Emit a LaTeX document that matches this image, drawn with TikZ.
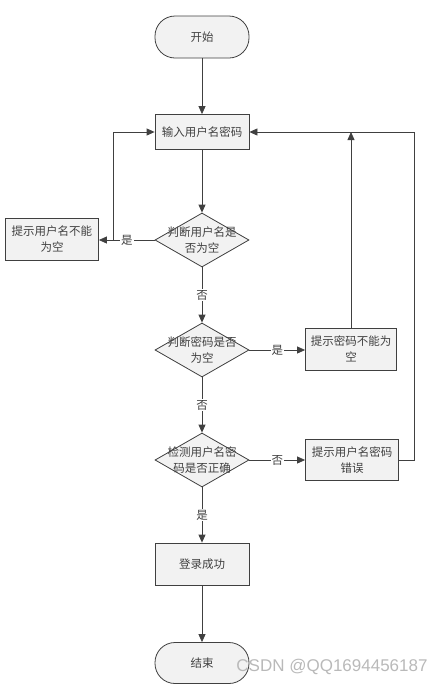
\documentclass[tikz,border=0pt]{standalone}
\usepackage{fontspec}
\newfontfamily\cjk{Noto Sans CJK SC}
\newfontfamily\wmfont{Liberation Sans}
\usetikzlibrary{arrows.meta,shapes.geometric}
\definecolor{linegray}{HTML}{404040}
\definecolor{boxfill}{HTML}{F2F2F2}
\tikzstyle{box}=[rectangle, draw=linegray, fill=boxfill, thick, minimum width=94pt, minimum height=42pt, inner sep=0pt, align=center, font=\cjk\fontsize{11.5}{16}\selectfont, text=linegray]
\tikzstyle{term}=[box, rounded corners=20pt]
\tikzstyle{decision}=[diamond, draw=linegray, fill=boxfill, thick, minimum width=94pt, minimum height=54pt, inner sep=0pt]
\tikzstyle{dtext}=[align=center, font=\cjk\fontsize{11.5}{16}\selectfont, text=linegray]
\tikzstyle{tag}=[fill=white, inner sep=1pt, font=\cjk\fontsize{11.5}{12}\selectfont, text=linegray]
\tikzstyle{arrow}=[draw=linegray, thick, -{Triangle[length=8pt,width=7pt]}]

\begin{document}
\begin{tikzpicture}[x=1pt, y=-1pt]
		   \useasboundingbox (0,0) rectangle (446,686);
		   \begin{scope}
			   \node (start) at (202, 37)[term] {开始};
			   \node (input) at (202, 132)[box, minimum height=35pt] {输入用户名密码};
			   \node (chk1) at (202, 240)[decision, label={[dtext]center:判断用户名是\\否为空}] {};
			   \node (warn1) at (52, 239)[box, minimum width=93pt] {提示用户名不能\\为空};
			   \node (chk2) at (202, 350)[decision, label={[dtext]center:判断密码是否\\为空}] {};
			   \node (warn2) at (351, 349)[box, minimum width=91pt] {提示密码不能为\\空};
			   \node (chk3) at (202, 460)[decision, label={[dtext]center:检测用户名密\\码是否正确}] {};
			   \node (warn3) at (352, 460)[box, minimum width=93pt, minimum height=41pt] {提示用户名密码\\错误};
			   \node (ok) at (202, 564)[box] {登录成功};
			   \node (stop) at (202, 663)[term, minimum height=41pt] {结束};
			   \coordinate (back1) at (113, 240);
			   \coordinate (back3) at (414, 460);
			   \node (mark) at (332, 667)[font=\wmfont\fontsize{17}{20}\selectfont, text=gray!55] {CSDN @QQ1694456187};
		   \end{scope}
		   \begin{scope}
			   \path [arrow] (start) -- (input);
			   \path [arrow] (input) -- (chk1);
			   \path [arrow] (chk1.west) -- node[tag] {是} (chk1.west -| warn1.east);
			   \path [arrow] (back1) |- (input.west);
			   \path [arrow] (chk1) -- node[tag] {否} (chk2);
			   \path [arrow] (chk2) -- node[tag] {是} (chk2 -| warn2.west);
			   \path [arrow] (warn2) -- (warn2 |- input.east);
			   \path [arrow] (chk2) -- node[tag] {否} (chk3);
			   \path [arrow] (chk3) -- node[tag] {否} (warn3);
			   \path [arrow] (warn3) -- (back3) |- (input.east);
			   \path [arrow] (chk3) -- node[tag] {是} (ok);
			   \path [arrow] (ok) -- (stop);
		   \end{scope}
	   \end{tikzpicture}
\end{document}
